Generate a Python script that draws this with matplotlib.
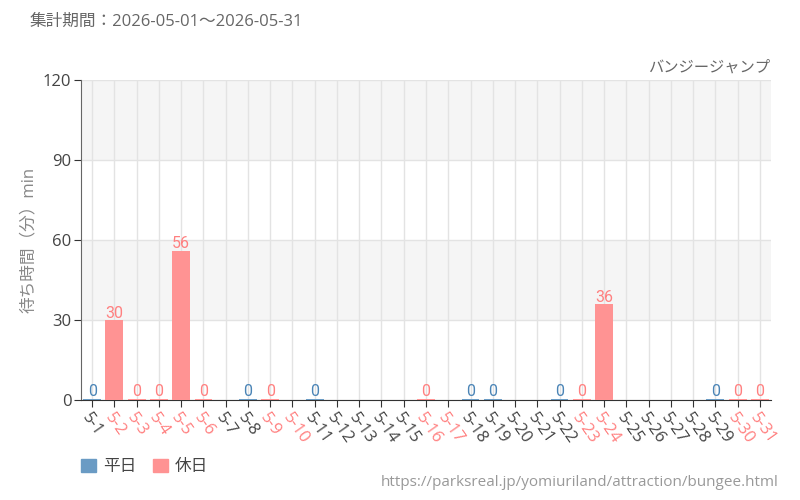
import matplotlib
matplotlib.use("Agg")
import matplotlib.pyplot as plt
from matplotlib.patches import Patch

plt.rcParams['font.family'] = ['Open Sans', 'Noto Sans CJK JP', 'DejaVu Sans']

days = [f"5-{d}" for d in range(1, 32)]
holiday = [False, True, True, True, True, True, False, False, True, True,
           False, False, False, False, False, True, True, False, False, False,
           False, False, True, True, False, False, False, False, False, True, True]
# None = no data that day
waits = [0, 30, 0, 0, 56, 0, None, 0, 0, None,
         0, None, None, None, None, 0, None, 0, 0, None,
         None, 0, 0, 36, None, None, None, None, 0, 0, 0]

BLUE = "#6a9bc4"
PINK = "#ff9393"
BLUE_TXT = "#4a84b6"
PINK_TXT = "#ff8080"

fig = plt.figure(figsize=(8, 5), dpi=100)
ax = fig.add_axes([0.10125, 0.2, 0.8625, 0.64])

# alternating bands
for lo, hi in [(30, 60), (90, 120)]:
    ax.axhspan(lo, hi, color="#f5f5f5", zorder=0, lw=0)
ax.set_axisbelow(True)
ax.grid(True, color="#e3e3e3", lw=1)

for i, (v, h) in enumerate(zip(waits, holiday)):
    if v is None:
        continue
    c = PINK if h else BLUE
    tc = PINK_TXT if h else BLUE_TXT
    top = max(v, 0.5)
    ax.bar(i, top, width=0.8, color=c, zorder=3)
    ax.text(i, top - 0.2, str(v), ha="center", va="bottom", color=tc,
            fontsize=11.5, family="Roboto", zorder=4)

ax.set_xlim(-0.5, len(days) - 0.5)
ax.set_ylim(0, 120)
ax.set_yticks([0, 30, 60, 90, 120])
ax.set_xticks(range(len(days)))
ax.set_xticklabels(days, rotation=-55, ha="left", rotation_mode="anchor", fontsize=12)
for lbl, h in zip(ax.get_xticklabels(), holiday):
    lbl.set_color(PINK_TXT if h else "#444444")
ax.tick_params(axis="y", labelsize=12, labelcolor="#444444", length=5, color="#333333", pad=2)
ax.tick_params(axis="x", length=5, color="#333333", pad=2)
for side in ("top", "right"):
    ax.spines[side].set_visible(False)
ax.spines["left"].set_color("#666666")
ax.spines["bottom"].set_color("#333333")

ax.set_ylabel("待ち時間（分）min", color="#888888", fontsize=12, labelpad=4)

fig.text(30 / 800, 1 - 22 / 500, "集計期間：2026-05-01～2026-05-31", color="#666666",
         fontsize=12, va="center", ha="left")
fig.text(770 / 800, 1 - 68 / 500, "バンジージャンプ", color="#666666",
         fontsize=11, va="center", ha="right")
fig.text(779 / 800, 1 - 482 / 500, "https://parksreal.jp/yomiuriland/attraction/bungee.html",
         color="#999999", fontsize=11, va="center", ha="right")

handles = [Patch(color=BLUE, label="平日"), Patch(color=PINK, label="休日")]
fig.legend(handles=handles, loc="center left", bbox_to_anchor=(81 / 800, 1 - 467 / 500),
           ncol=2, frameon=False, fontsize=12, handlelength=0.9, handleheight=0.85,
           handletextpad=0.4, columnspacing=1.0, borderaxespad=0, borderpad=0,
           labelcolor="#444444")

fig.savefig("out.png", dpi=100)
